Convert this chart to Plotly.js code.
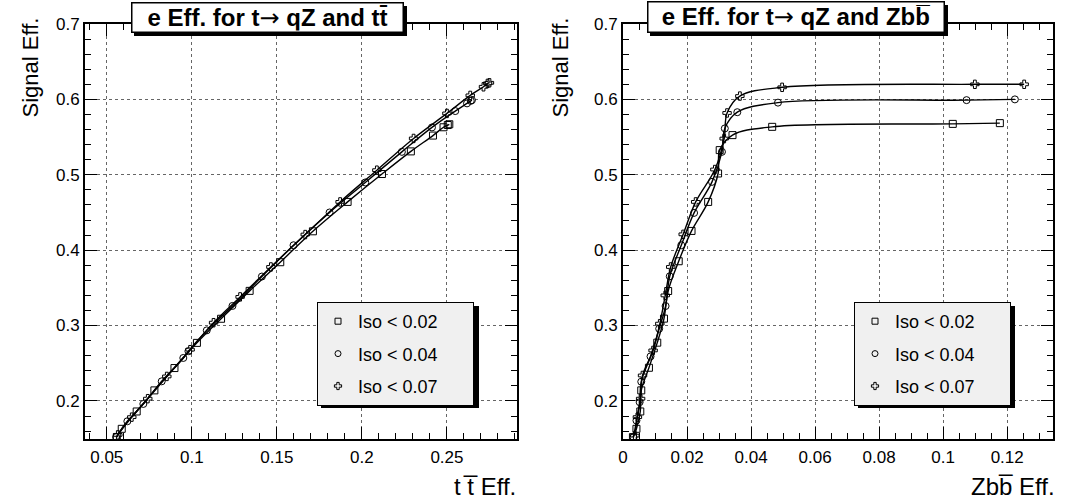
<!DOCTYPE html>
<html><head><meta charset="utf-8">
<script src="https://cdn.plot.ly/plotly-3.0.1.min.js"></script>
<style>html,body{margin:0;padding:0;background:#fff;}#chart{width:1067px;height:502px;}</style>
</head><body><div id="chart"></div>
<script>
// ---- data (left panel: signal eff. vs ttbar eff.) ----
const seriesNames = ["Iso < 0.02", "Iso < 0.04", "Iso < 0.07"];
const ttSqX = [0.0559,0.0588,0.0676,0.078,0.0898,0.103,0.1172,0.134,0.152,0.1712,0.1916,0.2118,0.2288,0.2418,0.248,0.2505,0.2514];
const ttSqY = [0.152,0.163,0.186,0.214,0.2436,0.277,0.309,0.346,0.384,0.425,0.464,0.501,0.531,0.552,0.563,0.566,0.567];
const ttCiX = [0.0555,0.0621,0.0715,0.0823,0.095,0.098,0.1088,0.1239,0.1412,0.1598,0.181,0.202,0.2235,0.2412,0.2549,0.2618,0.264,0.2647];
const ttCiY = [0.152,0.173,0.196,0.226,0.257,0.266,0.2936,0.326,0.365,0.4065,0.450,0.4898,0.5304,0.5628,0.5845,0.5947,0.598,0.599];
const ttCrX = [0.0565,0.0647,0.0741,0.0853,0.099,0.1128,0.1284,0.1465,0.1667,0.1872,0.2088,0.2304,0.25,0.2637,0.2715,0.2739,0.275];
const ttCrY = [0.155,0.1785,0.203,0.2325,0.268,0.3038,0.338,0.3777,0.4207,0.464,0.5061,0.5482,0.5814,0.6053,0.6167,0.6212,0.622];
// ---- data (right panel: signal eff. vs Zbb eff.) ----
const zbSqX = [0.0031,0.0042,0.0054,0.0057,0.0081,0.0107,0.0128,0.0141,0.0174,0.0214,0.0266,0.0297,0.0302,0.0342,0.0466,0.103,0.1177];
const zbSqY = [0.152,0.163,0.186,0.214,0.244,0.2773,0.3092,0.3458,0.3853,0.4255,0.464,0.5017,0.5327,0.5526,0.5636,0.5675,0.5685];
const zbCiX = [0.0033,0.0042,0.0052,0.0057,0.0086,0.0113,0.0133,0.0146,0.0182,0.0222,0.0278,0.0309,0.0318,0.0357,0.0484,0.1073,0.1224];
const zbCiY = [0.152,0.174,0.1984,0.2255,0.259,0.2958,0.3259,0.3653,0.4065,0.4494,0.4906,0.5304,0.5615,0.583,0.5957,0.599,0.600];
const zbCrX = [0.0037,0.0045,0.0055,0.0061,0.0094,0.0115,0.0132,0.0149,0.0188,0.0227,0.0287,0.0316,0.0325,0.0365,0.0497,0.1099,0.1253];
const zbCrY = [0.154,0.1785,0.203,0.2338,0.267,0.3025,0.340,0.3777,0.421,0.464,0.507,0.548,0.582,0.6044,0.616,0.620,0.620];
const symbols = ["square-open", "circle-open", "cross-open"];

const W = 1067, H = 502;
const px = v => v / W, py = v => 1 - v / H;
const FONT = "Liberation Sans, Arial, Helvetica, sans-serif";
const PAD = "\u00a0".repeat(6);
const ARROW = '</b><span style="font-family:DejaVu Sans">\u2192</span><b>';

function curve(x, y, sym, xa, ya) {
  return {x: x, y: y, xaxis: xa, yaxis: ya, type: "scatter", mode: "lines+markers",
    line: {color: "#000", width: 1.4, shape: "spline", smoothing: 1},
    marker: {symbol: sym, size: 7, color: "#000", line: {color: "#000", width: 1}},
    showlegend: false, hoverinfo: "skip"};
}
function legItem(i, leg) {
  return {x: [null], y: [null], type: "scatter", mode: "markers", name: seriesNames[i] + PAD,
    xaxis: leg === "legend" ? "x" : "x2", yaxis: leg === "legend" ? "y" : "y2",
    legend: leg, legendgroup: leg + i, showlegend: true,
    marker: {symbol: symbols[i], size: 6, color: "#000", line: {color: "#000", width: 1}}};
}

const traces = [
  curve(ttSqX, ttSqY, symbols[0], "x", "y"),
  curve(ttCiX, ttCiY, symbols[1], "x", "y"),
  curve(ttCrX, ttCrY, symbols[2], "x", "y"),
  curve(zbSqX, zbSqY, symbols[0], "x2", "y2"),
  curve(zbCiX, zbCiY, symbols[1], "x2", "y2"),
  curve(zbCrX, zbCrY, symbols[2], "x2", "y2"),
  legItem(0, "legend"), legItem(1, "legend"), legItem(2, "legend"),
  legItem(0, "legend2"), legItem(1, "legend2"), legItem(2, "legend2")
];

function axisBase(extra) {
  return Object.assign({
    showline: true, linecolor: "#000", linewidth: 2, mirror: "ticks",
    ticks: "inside", ticklen: 12, tickwidth: 1, tickcolor: "#000",
    showgrid: true, gridcolor: "#666", griddash: "dot", gridwidth: 1,
    zeroline: false, tickfont: {family: FONT, size: 17, color: "#000"},
    fixedrange: true
  }, extra);
}

const yDom = [py(439), py(24)];
const legendBase = {xanchor: "left", yanchor: "top", bgcolor: "#f0f0f0",
    bordercolor: "#000", borderwidth: 1, font: {family: FONT, size: 18, color: "#000"},
    traceorder: "grouped", tracegroupgap: 6, itemclick: false};
const layout = {
  width: W, height: H, margin: {l: 0, r: 0, t: 0, b: 0},
  paper_bgcolor: "#fff", plot_bgcolor: "#fff",
  font: {family: FONT, color: "#000"},
  xaxis: axisBase({domain: [px(85), px(517)], range: [0.0372, 0.2912], tick0: 0.05, dtick: 0.05,
    minor: {dtick: 0.01, tick0: 0.05, ticks: "inside", ticklen: 6, tickcolor: "#000", showgrid: false},
    anchor: "y", ticklabelstandoff: 2}),
  yaxis: axisBase({domain: yDom, range: [0.1495, 0.7], tick0: 0.2, dtick: 0.1,
    minor: {dtick: 0.02, ticks: "inside", ticklen: 6, tickcolor: "#000", showgrid: false},
    anchor: "x", ticklabelstandoff: 0}),
  xaxis2: axisBase({domain: [px(623), px(1053)], range: [0, 0.1343], tick0: 0, dtick: 0.02,
    minor: {dtick: 0.005, ticks: "inside", ticklen: 6, tickcolor: "#000", showgrid: false},
    anchor: "y2", ticklabelstandoff: 2}),
  yaxis2: axisBase({domain: yDom, range: [0.1495, 0.7], tick0: 0.2, dtick: 0.1,
    minor: {dtick: 0.02, ticks: "inside", ticklen: 6, tickcolor: "#000", showgrid: false},
    anchor: "x2", ticklabelstandoff: 0}),
  legend: Object.assign({x: px(317), y: py(302)}, legendBase),
  legend2: Object.assign({x: px(854), y: py(302)}, legendBase),
  shapes: [
    // legend shadows
    {type: "rect", xref: "paper", yref: "paper", x0: px(321), x1: px(479), y0: py(306), y1: py(408),
      fillcolor: "#000", line: {width: 0}, layer: "above"},
    {type: "rect", xref: "paper", yref: "paper", x0: px(858), x1: px(1015), y0: py(306), y1: py(408),
      fillcolor: "#000", line: {width: 0}, layer: "above"},
    // title shadows
    {type: "rect", xref: "paper", yref: "paper", x0: px(134), x1: px(407), y0: py(6), y1: py(36),
      fillcolor: "#000", line: {width: 0}, layer: "above"},
    {type: "rect", xref: "paper", yref: "paper", x0: px(650), x1: px(948), y0: py(5), y1: py(36),
      fillcolor: "#000", line: {width: 0}, layer: "above"}
  ],
  annotations: [
    {xref: "paper", yref: "paper", x: px(267.5), y: py(18), xanchor: "center", yanchor: "middle",
      text: "<b>e Eff. for t</b>" + ARROW.slice(4, -3) + "<b> qZ and tt\u0304</b>", showarrow: false,
      font: {family: FONT, size: 24, color: "#000"}, bgcolor: "#fff", bordercolor: "#000", borderwidth: 1.5,
      width: 268, height: 26, borderpad: 1},
    {xref: "paper", yref: "paper", x: px(796), y: py(17.5), xanchor: "center", yanchor: "middle",
      text: "<b>e Eff. for t</b>" + ARROW.slice(4, -3) + "<b> qZ and Zbb\u0305</b>", showarrow: false,
      font: {family: FONT, size: 24, color: "#000"}, bgcolor: "#fff", bordercolor: "#000", borderwidth: 1.5,
      width: 293, height: 27, borderpad: 1},
    {xref: "paper", yref: "paper", x: px(518), y: 0, xanchor: "right", yanchor: "bottom",
      text: "t t\u0305 Eff.", showarrow: false, font: {family: FONT, size: 24, color: "#000"}},
    {xref: "paper", yref: "paper", x: px(1057), y: 0, xanchor: "right", yanchor: "bottom",
      text: "Zbb\u0305 Eff.", showarrow: false, font: {family: FONT, size: 24, color: "#000"}},
    {xref: "paper", yref: "paper", x: px(16), y: py(16), xanchor: "left", yanchor: "top", textangle: -90,
      text: "Signal Eff.", showarrow: false, font: {family: FONT, size: 22, color: "#000"}},
    {xref: "paper", yref: "paper", x: px(546), y: py(16), xanchor: "left", yanchor: "top", textangle: -90,
      text: "Signal Eff.", showarrow: false, font: {family: FONT, size: 22, color: "#000"}}
  ]
};

Plotly.newPlot("chart", traces, layout, {displayModeBar: false, staticPlot: true});
</script></body></html>
